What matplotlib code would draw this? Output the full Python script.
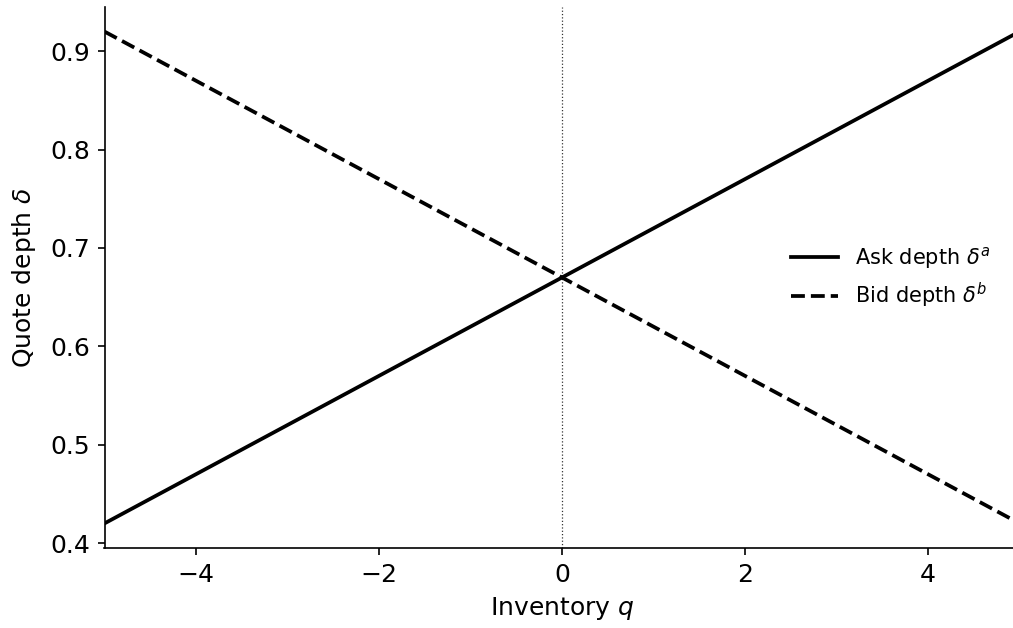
import numpy as np
import matplotlib
matplotlib.use("Agg")
import matplotlib.pyplot as plt

# inventory grid and quote depths
q = [-5, 0, 5]
ask_depth = [0.42, 0.67, 0.92]
bid_depth = [0.92, 0.67, 0.42]

plt.rcParams['font.size'] = 12

fig, ax = plt.subplots(figsize=(1013 / 150, 628 / 150), dpi=150)
fig.subplots_adjust(left=104.5 / 1013, right=1019.5 / 1013, bottom=0.1274, top=0.9889)

ax.plot(q, ask_depth, color='black', lw=1.8, label=r'Ask depth $\delta^a$')
ax.plot(q, bid_depth, color='black', lw=1.8, ls='--', label=r'Bid depth $\delta^b$')
ax.axvline(0, color='black', lw=0.6, ls=':', alpha=0.8)

ax.set_xlim(-5, 5)
ax.set_xlabel(r'Inventory $q$')
ax.set_ylabel(r'Quote depth $\delta$', labelpad=6)
ax.spines['top'].set_visible(False)
ax.spines['right'].set_visible(False)
ax.legend(loc='center right', bbox_to_anchor=(0.989, 0.5), frameon=False,
          fontsize=10, handlelength=2.3)

fig.savefig("out.png", dpi=150)
